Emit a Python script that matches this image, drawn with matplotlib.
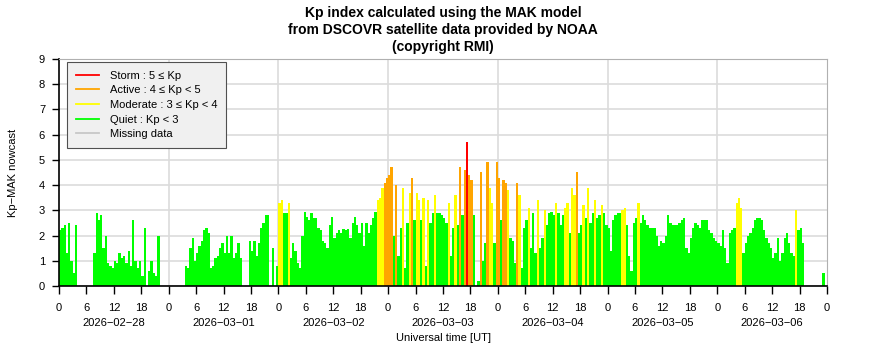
import numpy as np
import matplotlib
matplotlib.use("Agg")
import matplotlib.pyplot as plt
from matplotlib import font_manager
from matplotlib.lines import Line2D

nan = np.nan

# Kp-MAK nowcast, one value per half hour (48 per day), nan = no data
kp_0228 = [2.2, 2.3, 2.4, 1.3, 2.5, 1.0, 0.5, 2.4, nan, nan, nan, nan, nan, nan, nan, 1.3,
           2.9, 2.6, 2.8, 1.5, 2.0, 0.9, 0.8, 0.7, 1.0, 0.9, 1.3, 1.1, 1.2, 0.9, 1.4, 0.8,
           2.6, 1.0, 0.7, 1.0, 0.4, 2.3, nan, 0.6, 1.0, 0.5, 0.4, 2.0, nan, nan, nan, nan]
kp_0301 = [nan, nan, nan, nan, nan, nan, nan, 0.8, 0.7, 1.5, 1.9, 1.0, 1.3, 1.6, 1.8, 2.2,
           2.3, 2.1, 0.7, 0.8, 1.1, 1.2, 1.5, 1.7, 1.3, 2.0, 1.3, 2.0, 1.1, 1.3, 1.7, 1.1,
           nan, nan, nan, 1.8, 1.4, 1.8, 1.2, 1.7, 2.3, 2.5, 2.8, 2.8, nan, 1.5, nan, 0.8]
kp_0302 = [3.3, 3.4, 2.9, 2.9, 3.3, 1.1, 1.7, 1.4, 0.9, 0.7, 2.0, 2.95, 2.75, 2.6, 2.9, 2.7,
           2.7, 2.3, 2.2, 1.8, 1.7, 1.5, 2.4, 2.75, 1.9, 2.1, 2.2, 2.1, 2.25, 2.2, 2.25, 1.9,
           2.5, 2.75, 2.4, 2.1, 2.5, 1.6, 2.5, 2.1, 2.4, 2.7, 2.95, 3.4, 3.5, 3.9, 4.1, 4.3]
kp_0303 = [4.4, 4.7, 2.0, 4.0, 1.2, 2.3, 3.9, 0.7, 2.5, 3.7, 4.3, 2.6, 3.7, 3.4, 2.6, 3.5,
           0.8, 3.4, 2.5, 2.9, 3.6, 2.9, 2.9, 2.8, 2.7, 2.5, 3.3, 1.2, 2.3, 3.6, 2.4, 4.7,
           2.8, 4.6, 5.7, 4.4, 4.2, 2.8, nan, 0.2, 4.5, 1.0, 1.7, 4.9, 3.9, 3.3, 1.7, 4.9]
kp_0304 = [4.3, 2.6, 4.2, 4.1, 3.8, 1.9, 1.8, 0.9, 4.1, 3.6, 0.7, 2.3, 2.6, 3.1, 1.5, 2.9,
           1.3, 3.4, 1.5, 1.9, 3.0, 2.4, 2.9, 2.95, 2.8, 3.3, 2.9, 2.4, 2.8, 3.1, 3.3, 2.1,
           3.9, 3.6, 4.5, 2.1, 2.4, 3.2, 2.7, 3.9, 2.5, 2.9, 3.4, 2.7, 2.8, 3.2, 2.9, 2.4]
kp_0305 = [2.3, 1.4, 2.6, 2.8, 2.9, 2.9, 3.0, 3.1, 2.4, 1.2, 0.6, 2.5, 2.7, 3.3, 2.5, 2.8,
           2.6, 2.4, 2.3, 2.3, 2.3, 2.0, 1.6, 1.8, 1.7, 2.0, 2.8, 2.5, 2.4, 2.4, 2.4, 2.5,
           2.6, 2.7, 1.5, 1.3, 1.9, 2.3, 2.5, 2.4, 2.3, 2.6, 2.6, 2.6, 2.2, 2.1, 1.9, 1.8]
kp_0306 = [1.7, 1.6, 2.2, 1.5, 0.9, 2.1, 2.2, 2.3, 3.3, 3.5, 3.1, 1.3, 1.7, 2.0, 2.1, 2.3,
           2.6, 2.7, 2.7, 2.6, 2.2, 1.9, 1.7, 1.5, 1.1, 1.3, 1.9, 1.0, 1.3, 1.9, 2.1, 1.7,
           1.3, 1.2, 3.0, 2.2, 2.3, 1.7, nan, nan, nan, nan, nan, nan, nan, nan, 0.5, nan]

days = ["2026\u221202\u221228", "2026\u221203\u221201", "2026\u221203\u221202",
        "2026\u221203\u221203", "2026\u221203\u221204", "2026\u221203\u221205",
        "2026\u221203\u221206"]
hour_labels = ["0", "6", "12", "18"]

levels = [
    ("Storm : 5 \u2264 Kp", "#ff0000"),
    ("Active : 4 \u2264 Kp < 5", "#ffa500"),
    ("Moderate : 3 \u2264 Kp < 4", "#ffff00"),
    ("Quiet : Kp < 3", "#00ff00"),
    ("Missing data", "#c8c8c8"),
]

installed = {f.name for f in font_manager.fontManager.ttflist}
body_font = "Liberation Sans" if "Liberation Sans" in installed else "DejaVu Sans"
plt.rcParams["font.family"] = [body_font, "DejaVu Sans"]


def kp_colour(v):
    if v >= 5:
        return levels[0][1]
    if v >= 4:
        return levels[1][1]
    if v >= 3:
        return levels[2][1]
    return levels[3][1]


kp = np.concatenate([kp_0228, kp_0301, kp_0302, kp_0303, kp_0304, kp_0305, kp_0306])
step = 0.5
hours = np.arange(len(kp)) * step
ok = ~np.isnan(kp)

fig = plt.figure(figsize=(8.86, 3.6), dpi=100)
ax = fig.add_axes([0.0666, 0.2056, 0.8668, 0.6306])

ax.bar(hours[ok], kp[ok], width=step, align="edge", linewidth=0,
       color=[kp_colour(v) for v in kp[ok]], zorder=2)

n_days = len(days)
ax.set_xlim(0, 24 * n_days)
ax.set_ylim(0, 9)
ax.set_yticks(range(10))

ax.set_xticks(np.arange(0, 24 * n_days + 1, 6))
ax.set_xticklabels([hour_labels[i % 4] for i in range(4 * n_days + 1)])
ax.set_xticks(np.arange(12, 24 * n_days, 24), minor=True)
ax.set_xticklabels(days, minor=True)
ax.xaxis.remove_overlapping_locs = False
ax.tick_params(axis="x", which="major", direction="out", length=6, width=1, pad=6, labelsize=8)
ax.tick_params(axis="x", which="minor", length=0, pad=23, labelsize=8)
ax.tick_params(axis="y", direction="out", length=5, width=1, pad=5, labelsize=8)

for y in range(10):
    ax.axhline(y, color="#dcdcdc", linewidth=1.2, zorder=1)
for d in range(1, n_days):
    ax.axvline(24 * d, color="#dcdcdc", linewidth=1.2, zorder=1)

for side in ("top", "right"):
    ax.spines[side].set_color("#b0b0b0")
ax.spines["left"].set_linewidth(1.2)
ax.spines["bottom"].set_linewidth(1.2)

ax.set_xlabel("Universal time [UT]", fontsize=8, labelpad=4)
ax.set_ylabel("Kp\u2212MAK nowcast", fontsize=8, labelpad=15)
ax.set_title("Kp index calculated using the MAK model\n"
             "from DSCOVR satellite data provided by NOAA\n(copyright RMI)",
             fontsize=10, fontweight="bold", linespacing=1.3, pad=5.5)

handles = [Line2D([], [], color=c, linewidth=1.3) for _, c in levels]
leg = ax.legend(handles, [name for name, _ in levels], loc="upper left",
                bbox_to_anchor=(0.008, 0.995), fontsize=8, frameon=True, fancybox=False,
                framealpha=1, facecolor="#f0f0f0", edgecolor="#505050",
                handlelength=2.1, handletextpad=1.0, labelspacing=0.42,
                borderpad=0.75, borderaxespad=0.2)
leg.get_frame().set_linewidth(0.8)
leg.set_zorder(5)

fig.savefig("out.png", dpi=100)
